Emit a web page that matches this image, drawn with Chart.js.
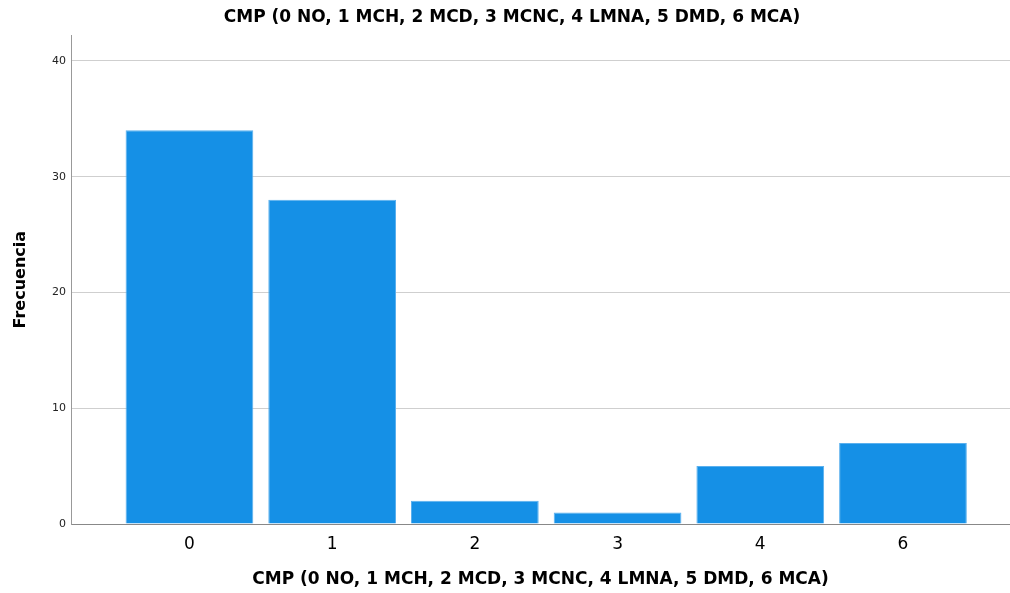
<!DOCTYPE html>
<html>
<head>
<meta charset="utf-8">
<script src="https://cdn.jsdelivr.net/npm/chart.js@4"></script>
<style>
html,body{margin:0;padding:0;background:#fff;}
#wrap{width:1010px;height:593px;}
</style>
</head>
<body>
<div id="wrap"><canvas id="c" width="1010" height="593"></canvas></div>
<script>
const categories = ['0', '1', '2', '3', '4', '6'];
const frecuencia = [34, 28, 2, 1, 5, 7];
const yTicks = [0, 10, 20, 30, 40];
const titleText = 'CMP (0 NO, 1 MCH, 2 MCD, 3 MCNC, 4 LMNA, 5 DMD, 6 MCA)';
const yTitle = 'Frecuencia';

const fontFamily = '"DejaVu Sans", sans-serif';

new Chart(document.getElementById('c'), {
  type: 'bar',
  data: {
    datasets: [{
      data: frecuencia.map((v, i) => ({x: i, y: v})),
      backgroundColor: 'rgb(21,144,230)',
      borderColor: 'rgb(90,176,238)',
      borderWidth: 1,
      barPercentage: 0.895,
      categoryPercentage: 1.0
    }]
  },
  options: {
    responsive: false,
    animation: false,
    layout: {padding: {left: 14, right: 0, top: 0, bottom: 0}},
    plugins: {
      legend: {display: false},
      tooltip: {enabled: false},
      title: {
        display: true,
        text: titleText,
        color: '#000',
        font: {family: fontFamily, size: 17, weight: 'bold'},
        padding: {top: 7, bottom: 8}
      }
    },
    scales: {
      x: {
        type: 'linear',
        offset: false,
        min: -0.83,
        max: 5.75,
        afterBuildTicks: (s) => { s.ticks = categories.map((c, i) => ({value: i})); },
        afterFit: (s) => { s.height = 69; },
        ticks: {
          callback: (v) => categories[v],
          color: '#000',
          font: {family: fontFamily, size: 17},
          padding: 10,
          maxRotation: 0,
          autoSkip: false
        },
        grid: {display: false, drawTicks: false},
        border: {color: '#888', width: 1},
        title: {
          display: true,
          text: titleText,
          color: '#000',
          font: {family: fontFamily, size: 17, weight: 'bold'},
          padding: {top: 0, bottom: 3}
        }
      },
      y: {
        min: 0,
        max: 42.2,
        afterBuildTicks: (s) => { s.ticks = yTicks.map(v => ({value: v})); },
        afterFit: (s) => { s.width = 57; },
        ticks: {
          color: '#222',
          font: {family: fontFamily, size: 11},
          padding: 5
        },
        grid: {
          color: (ctx) => ctx.tick && ctx.tick.value === 0 ? 'rgba(0,0,0,0)' : '#cfcfcf',
          lineWidth: 1,
          drawTicks: false
        },
        border: {color: '#999', width: 1},
        title: {
          display: true,
          text: yTitle,
          color: '#000',
          font: {family: fontFamily, size: 16, weight: 'bold'},
          padding: {top: -3, bottom: 0}
        }
      }
    }
  }
});
</script>
</body>
</html>
